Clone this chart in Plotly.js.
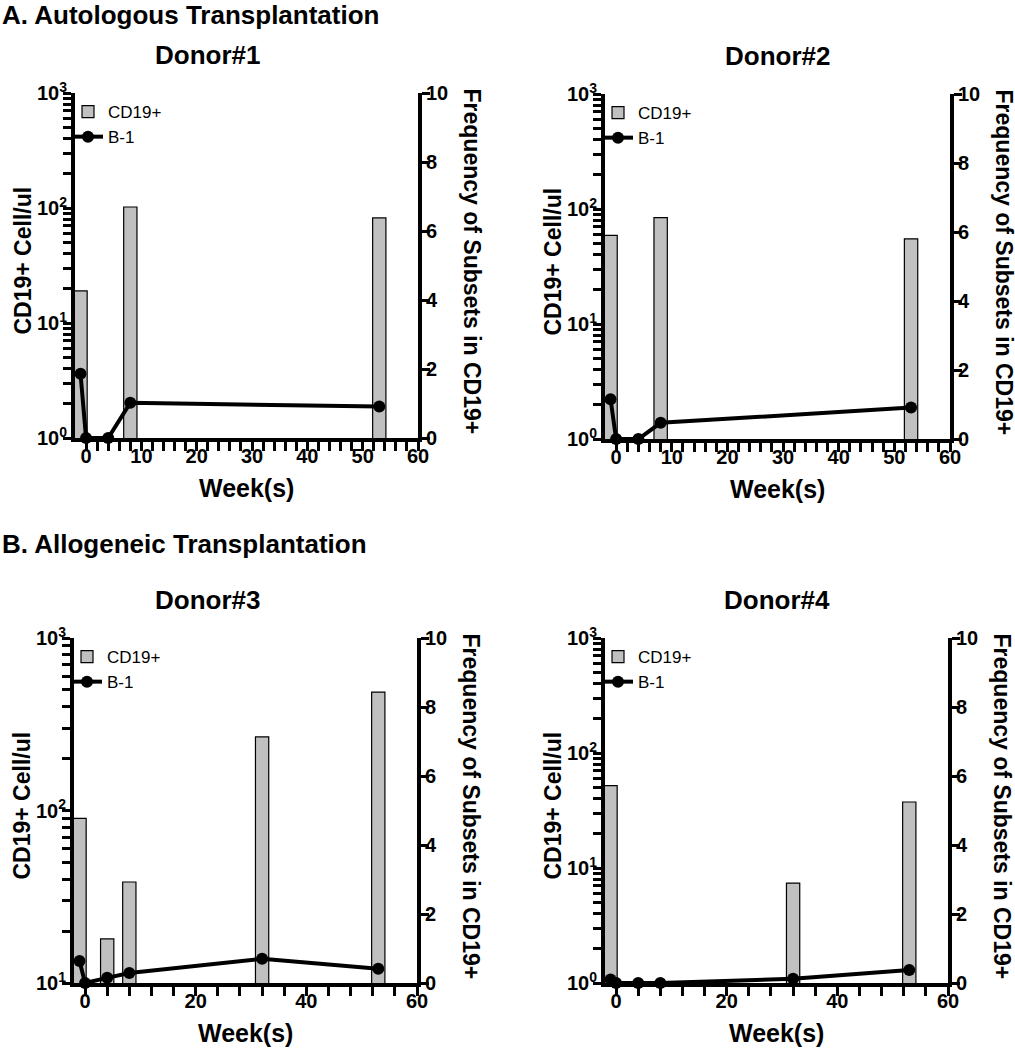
<!DOCTYPE html>
<html>
<head>
<meta charset="utf-8">
<script src="https://cdn.plot.ly/plotly-3.0.1.min.js"></script>
<style>
html,body{margin:0;padding:0;background:#fff;}
#chart{width:1015px;height:1050px;}
</style>
</head>
<body>
<div id="chart"></div>
<script>
// ---- Data ----
const panelTitles = ["Donor#1", "Donor#2", "Donor#3", "Donor#4"];
const sectionTitles = ["A. Autologous Transplantation", "B. Allogeneic Transplantation"];

const barWeeks1 = [-1, 8, 53];
const cd19_1 = [19, 102, 82];
const lineWeeks1 = [-1, 0, 4, 8, 53];
const b1_1 = [1.86, 0, 0, 1.02, 0.91];

const barWeeks2 = [-1, 8, 53];
const cd19_2 = [59, 84, 55];
const lineWeeks2 = [-1, 0, 4, 8, 53];
const b1_2 = [1.15, 0, 0, 0.47, 0.91];

const barWeeks3 = [-1, 4, 8, 32, 53];
const cd19_3 = [90, 18, 38.5, 267, 486];
const lineWeeks3 = [-1, 0, 4, 8, 32, 53];
const b1_3 = [0.64, 0, 0.15, 0.29, 0.70, 0.41];

const barWeeks4 = [-1, 32, 53];
const cd19_4 = [52, 7.4, 37.5];
const lineWeeks4 = [-1, 0, 4, 8, 32, 53];
const b1_4 = [0.1, 0, 0, 0, 0.12, 0.38];

const rightTickVals = [0, 2, 4, 6, 8, 10];
const seriesNames = ["CD19+", "B-1"];
const xTitle = "Week(s)";
const yLeftTitle = "CD19+ Cell/ul";
const yRightTitle = "Frequency of Subsets in CD19+";

// ---- Layout helpers ----
const W = 1015, H = 1050;
const px = v => v / W;
const py = v => 1 - v / H;
const FONT = "Liberation Sans, Arial, Helvetica, sans-serif";

// x ticks: labelled majors, unlabelled minors
function xTicks(major, minor) {
  const vals = [], text = [];
  for (let v = 0; v <= 60; v += minor) {
    vals.push(v);
    text.push(v % major === 0 ? String(v) : "");
  }
  return {vals, text};
}
// log ticks: decades labelled 10^n, digits 2..9 unlabelled
function logTicks(d0, d1) {
  const vals = [], text = [];
  for (let d = d0; d < d1; d++) {
    for (let k = 1; k <= 9; k++) {
      vals.push(k * Math.pow(10, d));
      text.push(k === 1 ? "10<sup>" + d + "</sup>" : "");
    }
  }
  vals.push(Math.pow(10, d1));
  text.push("10<sup>" + d1 + "</sup>");
  return {vals, text};
}

const panels = [
  {bx: barWeeks1, by: cd19_1, lx: lineWeeks1, ly: b1_1, x0: 75, x1: 418, top: 93, bot: 438, dec: [0, 3], dt: 10, mdt: 2},
  {bx: barWeeks2, by: cd19_2, lx: lineWeeks2, ly: b1_2, x0: 605, x1: 950, top: 94, bot: 439, dec: [0, 3], dt: 10, mdt: 2},
  {bx: barWeeks3, by: cd19_3, lx: lineWeeks3, ly: b1_3, x0: 74, x1: 417, top: 638, bot: 983, dec: [1, 3], dt: 20, mdt: 4},
  {bx: barWeeks4, by: cd19_4, lx: lineWeeks4, ly: b1_4, x0: 605, x1: 948, top: 638, bot: 983, dec: [0, 3], dt: 20, mdt: 4}
];

const data = [];
const layout = {
  width: W, height: H, autosize: false,
  margin: {l: 0, r: 0, t: 0, b: 0, pad: 0},
  paper_bgcolor: "#fff", plot_bgcolor: "rgba(0,0,0,0)",
  font: {family: FONT, color: "#000"},
  showlegend: true,
  bargap: 0,
  annotations: []
};

const tickFont = {family: FONT, size: 20, weight: "bold", color: "#000"};

panels.forEach((p, i) => {
  const n = i + 1;
  const xa = n === 1 ? "x" : "x" + n;
  const ya = n === 1 ? "y" : "y" + n;
  const yr = "y" + (n + 4);
  const leg = n === 1 ? "legend" : "legend" + n;

  data.push({
    type: "bar", x: p.bx, y: p.by, width: 2.4,
    xaxis: xa, yaxis: ya, name: seriesNames[0], legend: leg,
    marker: {color: "#c0c0c0", line: {color: "#000", width: 1.2}}
  });
  data.push({
    type: "scatter", mode: "lines+markers", x: p.lx, y: p.ly,
    xaxis: xa, yaxis: yr, name: seriesNames[1], legend: leg, cliponaxis: false,
    line: {color: "#000", width: 4},
    marker: {color: "#000", size: 12, symbol: "circle"}
  });

  const xKey = n === 1 ? "xaxis" : "xaxis" + n;
  const yKey = n === 1 ? "yaxis" : "yaxis" + n;
  const yrKey = "yaxis" + (n + 4);
  const xt = xTicks(p.dt, p.mdt);
  const lt = logTicks(p.dec[0], p.dec[1]);

  layout[xKey] = {
    domain: [px(p.x0), px(p.x1)], anchor: ya,
    range: [-2, 60], tickmode: "array", tickvals: xt.vals, ticktext: xt.text,
    showgrid: false, zeroline: false, showline: true, linecolor: "#000", linewidth: 4,
    ticks: "outside", ticklen: 9, tickwidth: 3, tickcolor: "#000",
    ticklabelstandoff: -12,
    tickfont: tickFont, fixedrange: true
  };
  layout[yKey] = {
    domain: [py(p.bot), py(p.top)], anchor: xa,
    type: "log", range: p.dec,
    tickmode: "array", tickvals: lt.vals, ticktext: lt.text,
    showgrid: false, zeroline: false, showline: true, linecolor: "#000", linewidth: 4,
    ticks: "outside", ticklen: 8, tickwidth: 3, tickcolor: "#000",
    ticklabelstandoff: -8,
    tickfont: tickFont, fixedrange: true
  };
  layout[yrKey] = {
    overlaying: ya, side: "right", anchor: xa,
    range: [0, 10], tickmode: "array", tickvals: rightTickVals,
    showgrid: false, zeroline: false, showline: true, linecolor: "#000", linewidth: 4,
    ticks: "outside", ticklen: 8, tickwidth: 3, tickcolor: "#000",
    ticklabelstandoff: -8,
    tickfont: tickFont, fixedrange: true
  };
  layout[leg] = {
    x: px(p.x0 - 7), y: py(p.top + 1), xanchor: "left", yanchor: "top",
    bgcolor: "rgba(0,0,0,0)", borderwidth: 0, tracegroupgap: 0,
    itemwidth: 30, traceorder: "normal",
    font: {family: FONT, size: 17, color: "#000"}
  };

  const cx = (p.x0 + p.x1) / 2;
  const cy = (p.top + p.bot) / 2;
  // panel title
  layout.annotations.push({
    text: panelTitles[i], xref: "paper", yref: "paper",
    x: px(i % 2 === 0 ? 207 : 777), y: py(p.top - 38), xanchor: "center", yanchor: "middle",
    showarrow: false, font: {family: FONT, size: 26, weight: "bold", color: "#000"}
  });
  // x title
  layout.annotations.push({
    text: xTitle, xref: "paper", yref: "paper",
    x: px(cx), y: py(p.bot + 50), xanchor: "center", yanchor: "middle",
    showarrow: false, font: {family: FONT, size: 25, weight: "bold", color: "#000"}
  });
  // left y title
  layout.annotations.push({
    text: yLeftTitle, xref: "paper", yref: "paper", textangle: -90,
    x: px(p.x0 - 53), y: py(cy - 5), xanchor: "center", yanchor: "middle",
    showarrow: false, font: {family: FONT, size: 23, weight: "bold", color: "#000"}
  });
  // right y title
  layout.annotations.push({
    text: yRightTitle, xref: "paper", yref: "paper", textangle: 90,
    x: px(p.x1 + 54), y: py(cy - 4), xanchor: "center", yanchor: "middle",
    showarrow: false, font: {family: FONT, size: 23, weight: "bold", color: "#000"}
  });
});

// section titles
layout.annotations.push({
  text: sectionTitles[0], xref: "paper", yref: "paper",
  x: 0, y: py(15), xanchor: "left", yanchor: "middle",
  showarrow: false, font: {family: FONT, size: 26, weight: "bold", color: "#000"}
});
layout.annotations.push({
  text: sectionTitles[1], xref: "paper", yref: "paper",
  x: 0, y: py(544), xanchor: "left", yanchor: "middle",
  showarrow: false, font: {family: FONT, size: 26, weight: "bold", color: "#000"}
});

Plotly.newPlot("chart", data, layout, {displayModeBar: false, staticPlot: true});
</script>
</body>
</html>
